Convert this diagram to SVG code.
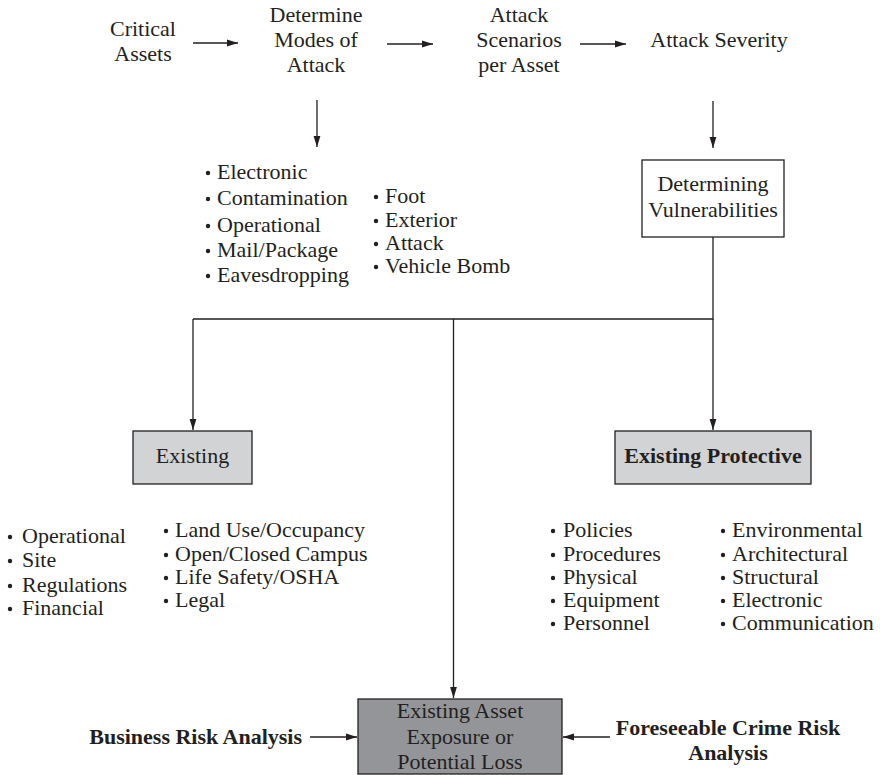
<svg xmlns="http://www.w3.org/2000/svg" width="880" height="775" viewBox="0 0 880 775">
  <style>
    text { font-family: "Liberation Serif", "Times New Roman", serif; font-size: 22px; fill: #231f20; }
    .c { text-anchor: middle; }
    .e { text-anchor: end; }
    .b { font-weight: bold; }
    .box { stroke: #231f20; stroke-width: 1.3; }
    .white { fill: #ffffff; }
    .light { fill: #d1d3d4; }
    .dark { fill: #939598; }
    .line { fill: none; stroke: #231f20; stroke-width: 1.3; }
    .dot { fill: #231f20; }
  </style>
  <defs>
    <marker id="arrow" markerUnits="userSpaceOnUse" markerWidth="12" markerHeight="8" refX="11" refY="4" orient="auto">
      <path d="M0,0.6 L11,4 L0,7.4 z" fill="#231f20"/>
    </marker>
    <circle id="bullet" r="2.2" class="dot"/>
  </defs>

  <rect width="880" height="775" fill="#ffffff"/>

  <!-- connectors -->
  <g id="connectors">
    <line class="line" x1="193" y1="43" x2="238" y2="43" marker-end="url(#arrow)"/>
    <line class="line" x1="387" y1="44" x2="433" y2="44" marker-end="url(#arrow)"/>
    <line class="line" x1="580" y1="44" x2="626" y2="44" marker-end="url(#arrow)"/>
    <line class="line" x1="317" y1="100" x2="317" y2="147" marker-end="url(#arrow)"/>
    <line class="line" x1="713" y1="101" x2="713" y2="148" marker-end="url(#arrow)"/>
    <polyline class="line" points="713,237 713,319 193,319"/>
    <line class="line" x1="193" y1="319" x2="193" y2="430" marker-end="url(#arrow)"/>
    <line class="line" x1="713" y1="319" x2="713" y2="430" marker-end="url(#arrow)"/>
    <line class="line" x1="453.5" y1="319" x2="453.5" y2="698" marker-end="url(#arrow)"/>
    <line class="line" x1="310" y1="737" x2="357" y2="737" marker-end="url(#arrow)"/>
    <line class="line" x1="610" y1="737" x2="563" y2="737" marker-end="url(#arrow)"/>
  </g>

  <!-- top row -->
  <g id="critical-assets">
    <text class="c" x="143" y="36">Critical</text>
    <text class="c" x="143" y="61">Assets</text>
  </g>
  <g id="modes-of-attack">
    <text class="c" x="316" y="22">Determine</text>
    <text class="c" x="316" y="47">Modes of</text>
    <text class="c" x="316" y="72">Attack</text>
  </g>
  <g id="attack-scenarios">
    <text class="c" x="519" y="22">Attack</text>
    <text class="c" x="519" y="47">Scenarios</text>
    <text class="c" x="519" y="72">per Asset</text>
  </g>
  <g id="attack-severity">
    <text class="c" x="719" y="47">Attack Severity</text>
  </g>

  <!-- attack modes list -->
  <g id="attack-modes">
    <use href="#bullet" x="208" y="173"/><text x="217" y="179">Electronic</text>
    <use href="#bullet" x="208" y="199"/><text x="217" y="205">Contamination</text>
    <use href="#bullet" x="208" y="226"/><text x="217" y="232">Operational</text>
    <use href="#bullet" x="208" y="251"/><text x="217" y="257">Mail/Package</text>
    <use href="#bullet" x="208" y="276"/><text x="217" y="282">Eavesdropping</text>
    <use href="#bullet" x="376" y="197"/><text x="385" y="203">Foot</text>
    <use href="#bullet" x="376" y="221"/><text x="385" y="227">Exterior</text>
    <use href="#bullet" x="376" y="244"/><text x="385" y="250">Attack</text>
    <use href="#bullet" x="376" y="267"/><text x="385" y="273">Vehicle Bomb</text>
  </g>

  <!-- vulnerabilities -->
  <g id="determining-vulnerabilities">
    <rect class="box white" x="642" y="160" width="142" height="77"/>
    <text class="c" x="713" y="191">Determining</text>
    <text class="c" x="713" y="217">Vulnerabilities</text>
  </g>

  <g id="existing">
    <rect class="box light" x="133" y="431" width="119" height="53"/>
    <text class="c" x="192.5" y="463">Existing</text>
  </g>
  <g id="existing-protective">
    <rect class="box light" x="615" y="431" width="196" height="53"/>
    <text class="c b" x="713" y="463">Existing Protective</text>
  </g>

  <!-- existing conditions list -->
  <g id="existing-list">
    <use href="#bullet" x="10" y="537"/><text x="22" y="543">Operational</text>
    <use href="#bullet" x="10" y="561"/><text x="22" y="567">Site</text>
    <use href="#bullet" x="10" y="586"/><text x="22" y="592">Regulations</text>
    <use href="#bullet" x="10" y="609"/><text x="22" y="615">Financial</text>
    <use href="#bullet" x="166" y="531"/><text x="175" y="537">Land Use/Occupancy</text>
    <use href="#bullet" x="166" y="555"/><text x="175" y="561">Open/Closed Campus</text>
    <use href="#bullet" x="166" y="578"/><text x="175" y="584">Life Safety/OSHA</text>
    <use href="#bullet" x="166" y="601"/><text x="175" y="607">Legal</text>
  </g>

  <!-- protective measures list -->
  <g id="protective-list">
    <use href="#bullet" x="553" y="531"/><text x="563" y="537">Policies</text>
    <use href="#bullet" x="553" y="555"/><text x="563" y="561">Procedures</text>
    <use href="#bullet" x="553" y="578"/><text x="563" y="584">Physical</text>
    <use href="#bullet" x="553" y="601"/><text x="563" y="607">Equipment</text>
    <use href="#bullet" x="553" y="624"/><text x="563" y="630">Personnel</text>
    <use href="#bullet" x="723" y="531"/><text x="732" y="537">Environmental</text>
    <use href="#bullet" x="723" y="555"/><text x="732" y="561">Architectural</text>
    <use href="#bullet" x="723" y="578"/><text x="732" y="584">Structural</text>
    <use href="#bullet" x="723" y="601"/><text x="732" y="607">Electronic</text>
    <use href="#bullet" x="723" y="624"/><text x="732" y="630">Communication</text>
  </g>

  <!-- outcome -->
  <g id="asset-exposure">
    <rect class="box dark" x="358" y="699" width="204" height="75"/>
    <text class="c" x="460" y="718">Existing Asset</text>
    <text class="c" x="460" y="744">Exposure or</text>
    <text class="c" x="460" y="769">Potential Loss</text>
  </g>
  <g id="business-risk">
    <text class="e b" x="302" y="744">Business Risk Analysis</text>
  </g>
  <g id="crime-risk">
    <text class="c b" x="728" y="735">Foreseeable Crime Risk</text>
    <text class="c b" x="728" y="760">Analysis</text>
  </g>
</svg>
